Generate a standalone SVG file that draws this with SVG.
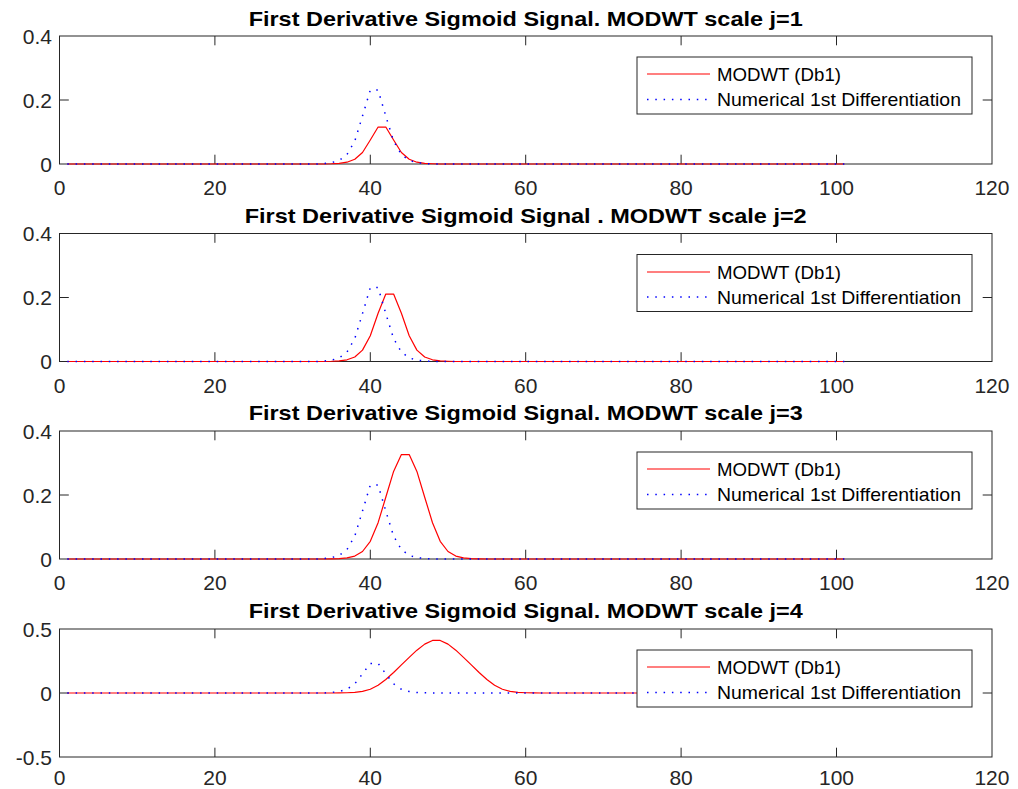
<svg xmlns="http://www.w3.org/2000/svg" xmlns:xlink="http://www.w3.org/1999/xlink" width="1018" height="789" viewBox="0 0 1018 789">
<style>
.ax{fill:#fff;stroke:#262626;stroke-width:1}
.tk{fill:none;stroke:#262626;stroke-width:1}
.tl{font-family:"Liberation Sans",Arial,sans-serif;font-size:21px;fill:#262626}
.ty{text-anchor:end}
.tx{text-anchor:middle}
.ttl{font-family:"Liberation Sans",Arial,sans-serif;font-size:21px;font-weight:bold;fill:#000;text-anchor:middle}
.red{fill:none;stroke:#f00;stroke-width:1.2;stroke-linejoin:round}
.blu{fill:none;stroke:#00f;stroke-width:1.5;stroke-dasharray:1.5 6.8}
.lg{fill:#fff;stroke:#262626;stroke-width:1}
.lt{font-family:"Liberation Sans",Arial,sans-serif;font-size:19px;fill:#000}
</style>
<defs>
<g id="frame">
<rect class="ax" x="59.5" y="0" width="932.5" height="128"/>
<path class="tk" d="M214.9,128v-9.3M370.3,128v-9.3M525.7,128v-9.3M681.1,128v-9.3M836.5,128v-9.3M214.9,0v9.3M370.3,0v9.3M525.7,0v9.3M681.1,0v9.3M836.5,0v9.3M59.5,64h9.3M992,64h-9.3"/>
</g>
</defs>

<g id="panel1">
<use xlink:href="#frame" href="#frame" transform="translate(0,36)"/>
<text class="ttl" x="525.7" y="26" textLength="554" lengthAdjust="spacingAndGlyphs">First Derivative Sigmoid Signal. MODWT scale j=1</text>
<g class="tl ty"><text x="52" y="171.5">0</text><text x="52" y="107.5">0.2</text><text x="52" y="43.5">0.4</text></g>
<g class="tl tx"><text x="59.5" y="195">0</text><text x="214.9" y="195">20</text><text x="370.3" y="195">40</text><text x="525.7" y="195">60</text><text x="681.1" y="195">80</text><text x="836.5" y="195">100</text><text x="991.9" y="195">120</text></g>
</g>

<g id="panel2">
<use xlink:href="#frame" href="#frame" transform="translate(0,233.5)"/>
<text class="ttl" x="525.7" y="222.5" textLength="562" lengthAdjust="spacingAndGlyphs">First Derivative Sigmoid Signal . MODWT scale j=2</text>
<g class="tl ty"><text x="52" y="369">0</text><text x="52" y="305">0.2</text><text x="52" y="241">0.4</text></g>
<g class="tl tx"><text x="59.5" y="392.5">0</text><text x="214.9" y="392.5">20</text><text x="370.3" y="392.5">40</text><text x="525.7" y="392.5">60</text><text x="681.1" y="392.5">80</text><text x="836.5" y="392.5">100</text><text x="991.9" y="392.5">120</text></g>
</g>

<g id="panel3">
<use xlink:href="#frame" href="#frame" transform="translate(0,431)"/>
<text class="ttl" x="525.7" y="420" textLength="554" lengthAdjust="spacingAndGlyphs">First Derivative Sigmoid Signal. MODWT scale j=3</text>
<g class="tl ty"><text x="52" y="566.5">0</text><text x="52" y="502.5">0.2</text><text x="52" y="438.5">0.4</text></g>
<g class="tl tx"><text x="59.5" y="590">0</text><text x="214.9" y="590">20</text><text x="370.3" y="590">40</text><text x="525.7" y="590">60</text><text x="681.1" y="590">80</text><text x="836.5" y="590">100</text><text x="991.9" y="590">120</text></g>
</g>

<g id="panel4">
<use xlink:href="#frame" href="#frame" transform="translate(0,629)"/>
<text class="ttl" x="525.7" y="618" textLength="554" lengthAdjust="spacingAndGlyphs">First Derivative Sigmoid Signal. MODWT scale j=4</text>
<g class="tl ty"><text x="52" y="764.5">-0.5</text><text x="52" y="700.5">0</text><text x="52" y="636.5">0.5</text></g>
<g class="tl tx"><text x="59.5" y="785">0</text><text x="214.9" y="785">20</text><text x="370.3" y="785">40</text><text x="525.7" y="785">60</text><text x="681.1" y="785">80</text><text x="836.5" y="785">100</text><text x="991.9" y="785">120</text></g>
</g>

<g id="connectors">
<path class="red" d="M67.3,164L323.7,164L331.5,163.75L339.2,163.33L347,162.19L354.8,159.29L362.5,152.52L370.3,140.04L378.1,127.03L385.8,127.03L393.6,140.04L401.4,152.52L409.2,159.29L416.9,162.19L424.7,163.33L432.5,163.75L440.2,164L844.3,164"/>
<path class="blu" d="M67.3,164L315.9,164L323.7,163.5L331.5,162.65L339.2,160.39L347,154.58L354.8,141.03L362.5,116.08L370.3,90.06L378.1,90.06L385.8,116.08L393.6,141.03L401.4,154.58L409.2,160.39L416.9,162.65L424.7,163.5L432.5,164L844.3,164"/>
<path class="red" d="M67.3,361.5L323.7,361.5L331.5,361.27L339.2,360.87L347,359.8L354.8,357L362.5,350.14L370.3,335.68L378.1,313.32L385.8,294.07L393.6,294.07L401.4,313.32L409.2,335.68L416.9,350.14L424.7,357L432.5,359.8L440.2,360.87L448,361.27L455.8,361.5L844.3,361.5"/>
<path class="blu" d="M67.3,361.5L315.9,361.5L323.7,361L331.5,360.15L339.2,357.89L347,352.08L354.8,338.53L362.5,313.58L370.3,287.56L378.1,287.56L385.8,313.58L393.6,338.53L401.4,352.08L409.2,357.89L416.9,360.15L424.7,361L432.5,361.5L844.3,361.5"/>
<path class="red" d="M67.3,559L323.7,559L331.5,558.87L339.2,558.62L347,557.9L354.8,556.07L362.5,551.5L370.3,541.27L378.1,522.7L385.8,497.22L393.6,471.42L401.4,454.57L409.2,454.57L416.9,471.42L424.7,497.22L432.5,522.7L440.2,541.27L448,551.5L455.8,556.07L463.5,557.9L471.3,558.62L479.1,558.87L486.9,559L844.3,559"/>
<path class="blu" d="M67.3,559L315.9,559L323.7,558.5L331.5,557.65L339.2,555.39L347,549.58L354.8,536.03L362.5,511.08L370.3,485.06L378.1,485.06L385.8,511.08L393.6,536.03L401.4,549.58L409.2,555.39L416.9,557.65L424.7,558.5L432.5,559L844.3,559"/>
<path class="red" d="M67.3,693L331.5,693L339.2,692.92L347,692.77L354.8,692.39L362.5,691.44L370.3,689.29L378.1,685.3L385.8,679.46L393.6,672.45L401.4,664.94L409.2,657.37L416.9,650.18L424.7,644.11L432.5,640.42L440.2,640.42L448,644.11L455.8,650.18L463.5,657.37L471.3,664.94L479.1,672.45L486.9,679.46L494.6,685.3L502.4,689.29L510.2,691.44L517.9,692.39L525.7,692.77L533.5,692.92L541.2,693L844.3,693"/>
<path class="blu" d="M67.3,693L323.7,693L331.5,692.46L339.2,691.55L347,689.23L354.8,683.81L362.5,673.83L370.3,663.42L378.1,663.42L385.8,673.83L393.6,683.81L401.4,689.23L409.2,691.55L416.9,692.46L424.7,692.8L432.5,693L844.3,693"/>
</g>

<g id="legend1">
<rect class="lg" x="637" y="57" width="335" height="57"/>
<path class="red" d="M647,74H710"/>
<path class="blu" d="M647,99.5H710"/>
<text class="lt" x="717" y="81" textLength="124" lengthAdjust="spacingAndGlyphs">MODWT (Db1)</text>
<text class="lt" x="717" y="106" textLength="244" lengthAdjust="spacingAndGlyphs">Numerical 1st Differentiation</text>
</g>
<g id="legend2">
<rect class="lg" x="637" y="254.5" width="335" height="57"/>
<path class="red" d="M647,272H710"/>
<path class="blu" d="M647,297H710"/>
<text class="lt" x="717" y="278.5" textLength="124" lengthAdjust="spacingAndGlyphs">MODWT (Db1)</text>
<text class="lt" x="717" y="303.5" textLength="244" lengthAdjust="spacingAndGlyphs">Numerical 1st Differentiation</text>
</g>
<g id="legend3">
<rect class="lg" x="637" y="452" width="335" height="57"/>
<path class="red" d="M647,469H710"/>
<path class="blu" d="M647,494.5H710"/>
<text class="lt" x="717" y="476" textLength="124" lengthAdjust="spacingAndGlyphs">MODWT (Db1)</text>
<text class="lt" x="717" y="501" textLength="244" lengthAdjust="spacingAndGlyphs">Numerical 1st Differentiation</text>
</g>
<g id="legend4">
<rect class="lg" x="637" y="650" width="335" height="57"/>
<path class="red" d="M647,667H710"/>
<path class="blu" d="M647,692.5H710"/>
<text class="lt" x="717" y="674" textLength="124" lengthAdjust="spacingAndGlyphs">MODWT (Db1)</text>
<text class="lt" x="717" y="699" textLength="244" lengthAdjust="spacingAndGlyphs">Numerical 1st Differentiation</text>
</g>
</svg>
